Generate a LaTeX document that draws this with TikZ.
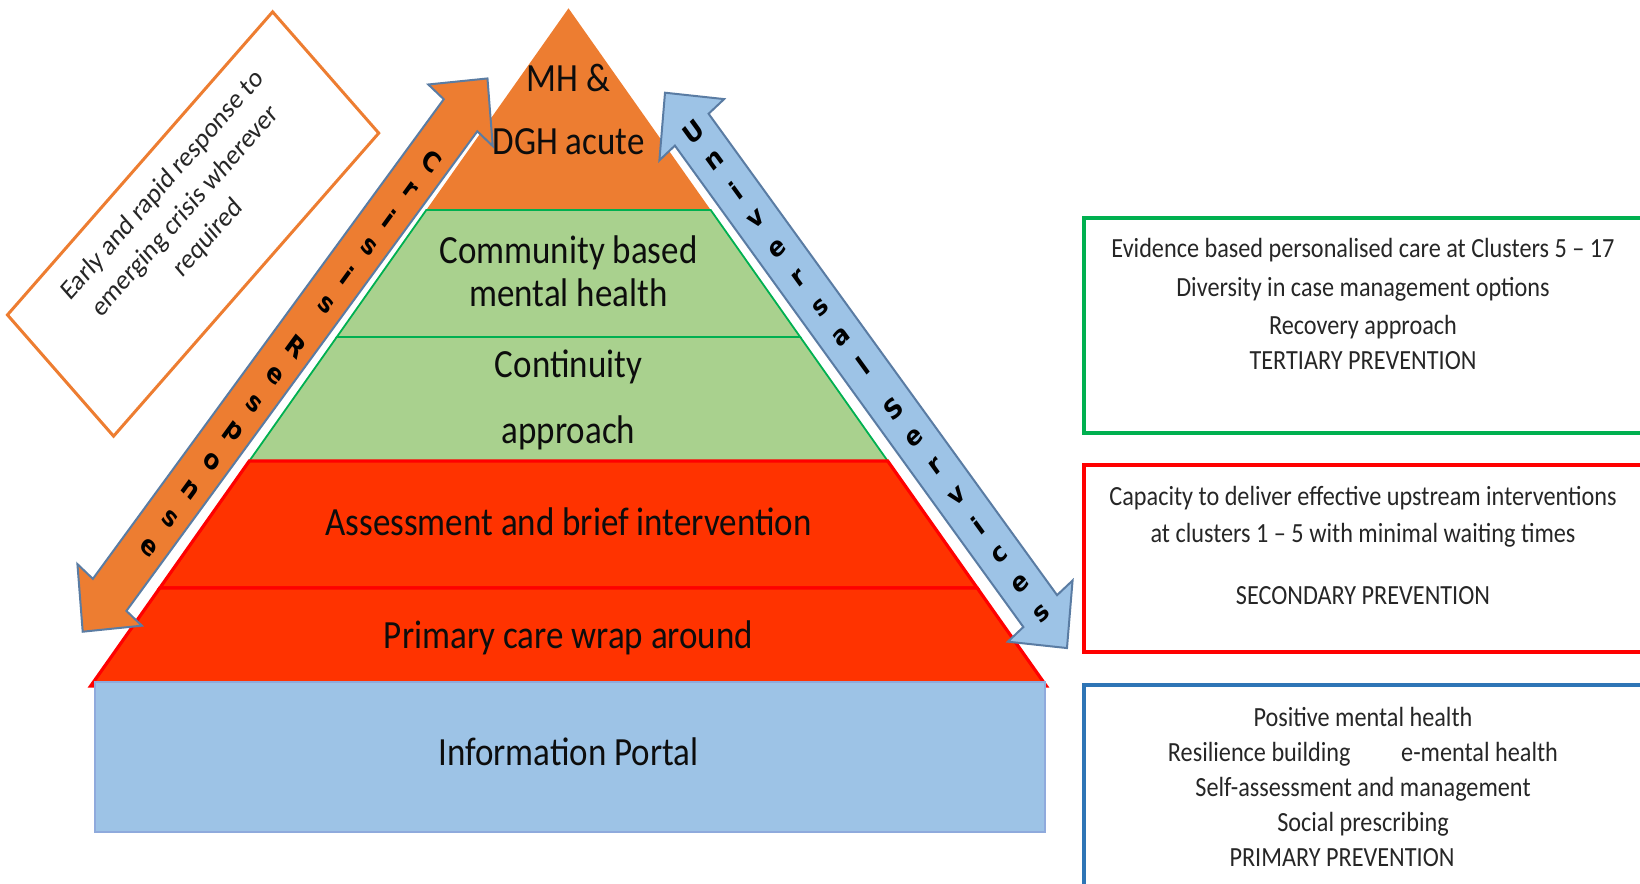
\documentclass[tikz,border=0pt]{standalone}
\usepackage{fontspec}
\setmainfont{Carlito}
\newfontfamily\letterfont{DejaVu Sans}
\definecolor{orangeF}{HTML}{ED7D31}
\definecolor{greenF}{HTML}{A9D18E}
\definecolor{greenL}{HTML}{00B050}
\definecolor{redF}{HTML}{FF3300}
\definecolor{redL}{HTML}{FF0000}
\definecolor{blueF}{HTML}{9DC3E6}
\definecolor{blueL}{HTML}{8FAADC}
\definecolor{arrowL}{HTML}{5A7CA3}
\definecolor{boxGreen}{HTML}{00B050}
\definecolor{boxRed}{HTML}{FF0000}
\definecolor{boxBlue}{HTML}{2E75B6}
\definecolor{inkC}{HTML}{0D0D0D}
\definecolor{inkB}{HTML}{262626}
\begin{document}
\begin{tikzpicture}[x=0.5pt,y=-0.5pt,
  sq/.style={xscale=0.875},
  tiertxt/.style={sq, anchor=base, inner sep=0pt, text=inkC, font=\fontsize{20}{24}\selectfont},
  sidetxt/.style={sq, anchor=base, inner sep=0pt, text=inkB, font=\fontsize{13.85}{16}\selectfont},
  notetxt/.style={xscale=0.875, rotate=45, anchor=center, inner sep=0pt, text=inkB, font=\fontsize{14.2}{17}\selectfont},
  arrowletter/.style={transform shape, anchor=center, inner sep=0pt, text=black, font=\letterfont\bfseries\fontsize{13.5}{15}\selectfont},
  greentier/.style={fill=greenF, draw=greenL, line width=0.9pt, line join=miter},
  redtier/.style={fill=redF, draw=redL, line width=1.6pt, line join=miter},
  bigarrow/.style={draw=arrowL, line width=1pt, line join=miter},
  sidebox/.style={line width=2pt}
]
\useasboundingbox (0,0) rectangle (1640,884);
\clip (0,0) rectangle (1640,884);

% ---- pyramid tiers ----
\fill[orangeF] (568.5,8.3) -- (710.7,210) -- (426.3,210) -- cycle;
\path[greentier] (426.3,210) -- (710.7,210) -- (800.2,337) -- (336.8,337) -- cycle;
\path[greentier] (336.8,337) -- (800.2,337) -- (887.7,461) -- (249.3,461) -- cycle;
\path[redtier] (249.3,461) -- (887.7,461) -- (977.2,588) -- (159.8,588) -- cycle;
\path[redtier] (159.8,588) -- (977.2,588) -- (1046.3,686) -- (90.7,686) -- cycle;
\filldraw[fill=blueF, draw=blueL, line width=0.6pt] (95,682) rectangle (1045,832);

% ---- tier labels ----
\node[tiertxt] (mh1) at (568.5,91.7) {MH \&};
\node[tiertxt] (mh2) at (568.5,154) {DGH acute};
\node[tiertxt] (cb1) at (568.5,263.3) {Community based};
\node[tiertxt] (cb2) at (568.5,306.7) {mental health};
\node[tiertxt] (ca1) at (568.5,377.5) {Continuity};
\node[tiertxt] (ca2) at (568.5,443) {approach};
\node[tiertxt] (abi) at (568.5,535) {Assessment and brief intervention};
\node[tiertxt] (pcw) at (568.5,648.3) {Primary care wrap around};
\node[tiertxt] (ip)  at (568.5,765) {Information Portal};

% ---- Crisis Response double arrow ----
\begin{scope}[shift={(82.7,631.7)}, xscale=0.875, rotate=50.1]
  \path[bigarrow, fill=orangeF]
    (0,0) -- (48,48) -- (48,25) -- (673.2,25) -- (673.2,48) -- (721.2,0)
    -- (673.2,-48) -- (673.2,-25) -- (48,-25) -- (48,-48) -- cycle;
  \foreach \s/\l [count=\i] in {617/C,579.5/r,542/i,504.5/s,467/i,429.5/s,
      375.1/R,337.6/e,300.1/s,262.6/p,225.1/o,187.6/n,150.1/s,112.6/e}
    \node[arrowletter, rotate=-90] (crisis-\i) at (\s,4) {\l};
\end{scope}

% ---- Universal Services double arrow ----
\begin{scope}[shift={(665,92.7)}, xscale=0.875, rotate=-50.4]
  \path[bigarrow, fill=blueF]
    (0,0) -- (48,48) -- (48,25) -- (672.8,25) -- (672.8,48) -- (720.8,0)
    -- (672.8,-48) -- (672.8,-25) -- (48,-25) -- (48,-48) -- cycle;
  \foreach \s/\l [count=\i] in {50.6/U,88.6/n,126.6/i,164.6/v,202.6/e,240.6/r,
      278.6/s,316.6/a,354.6/l,409.7/S,447.7/e,485.7/r,523.7/v,561.7/i,
      599.7/c,637.7/e,675.7/s}
    \node[arrowletter, rotate=90] (univ-\i) at (\s,0) {\l};
\end{scope}

% ---- tilted note ----
\node[draw=orangeF, line width=1.5pt, minimum width=214.3pt, minimum height=85.75pt,
      xscale=0.875, rotate=45, inner sep=0pt] (note) at (193.1,224) {};
\node[notetxt] (note1) at (162.8,185.6) {Early and rapid response to};
\node[notetxt] (note2) at (185.7,211.8) {emerging crisis wherever};
\node[notetxt] (note3) at (208.6,238) {required};

% ---- prevention boxes ----
\draw[sidebox, boxGreen] (1084,218.3) rectangle (1680,433);
\draw[sidebox, boxRed] (1084,465) rectangle (1680,651.7);
\draw[sidebox, boxBlue, line width=1.6pt] (1084,685) rectangle (1680,920);

\node[sidetxt] (t1) at (1363,257.5) {Evidence based personalised care at Clusters 5 – 17};
\node[sidetxt] (t2) at (1363,296) {Diversity in case management options};
\node[sidetxt] (t3) at (1363,334) {Recovery approach};
\node[sidetxt] (t4) at (1363,369.5) {TERTIARY PREVENTION};

\node[sidetxt] (s1) at (1363,505) {Capacity to deliver effective upstream interventions};
\node[sidetxt] (s2) at (1363,542) {at clusters 1 – 5 with minimal waiting times};
\node[sidetxt] (s3) at (1363,604) {SECONDARY PREVENTION};

\node[sidetxt] (p1) at (1363,726) {Positive mental health};
\node[sidetxt] (p2) at (1363,761.7) {Resilience building\hspace{29pt}e-mental health};
\node[sidetxt] (p3) at (1363,796.5) {Self-assessment and management};
\node[sidetxt] (p4) at (1363,831.7) {Social prescribing};
\node[sidetxt] (p5) at (1342,866.7) {PRIMARY PREVENTION};
\end{tikzpicture}
\end{document}
